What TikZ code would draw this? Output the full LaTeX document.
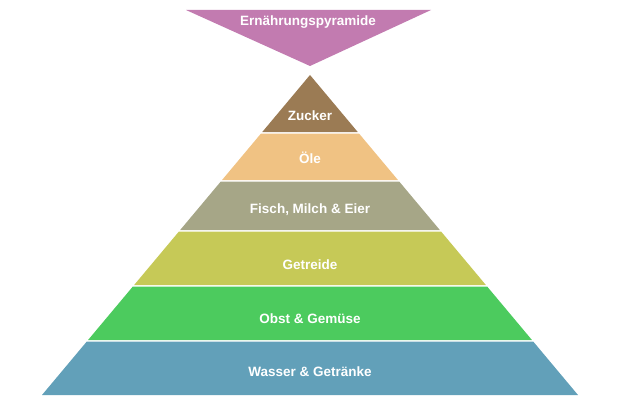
\documentclass[tikz,border=0pt]{standalone}
\usepackage{fontspec}
\setmainfont{Liberation Sans}
\definecolor{cTop}{HTML}{C27BB0}
\definecolor{cZ}{HTML}{9B7B54}
\definecolor{cO}{HTML}{F0C283}
\definecolor{cF}{HTML}{A6A687}
\definecolor{cG}{HTML}{C6C957}
\definecolor{cB}{HTML}{4CCB5E}
\definecolor{cW}{HTML}{62A0B9}
\tikzset{lbl/.style={text=white,font=\bfseries\fontsize{13.5}{15}\selectfont}}
\begin{document}
\begin{tikzpicture}[x=1pt,y=-1pt]
\useasboundingbox (0,0) rectangle (620,409);
\fill[cTop] (186,10) -- (431,10) -- (310,66) -- cycle;
\node[lbl] (t) at (308,22) {Ernährungspyramide};
\def\L#1{310-0.8375*(#1-75)}
\def\R#1{310+0.8375*(#1-75)}
\fill[cZ] (310,75) -- ({\R{132}},132) -- ({\L{132}},132) -- cycle;
\fill[cO] ({\L{133.5}},133.5) -- ({\R{133.5}},133.5) -- ({\R{180}},180) -- ({\L{180}},180) -- cycle;
\fill[cF] ({\L{181.5}},181.5) -- ({\R{181.5}},181.5) -- ({\R{230}},230) -- ({\L{230}},230) -- cycle;
\fill[cG] ({\L{231.5}},231.5) -- ({\R{231.5}},231.5) -- ({\R{285}},285) -- ({\L{285}},285) -- cycle;
\fill[cB] ({\L{286.5}},286.5) -- ({\R{286.5}},286.5) -- ({\R{340}},340) -- ({\L{340}},340) -- cycle;
\fill[cW] ({\L{341.5}},341.5) -- ({\R{341.5}},341.5) -- ({\R{395}},395) -- ({\L{395}},395) -- cycle;
\node[lbl] (z) at (310,116) {Zucker};
\node[lbl] (o) at (310,158) {Öle};
\node[lbl] (f) at (310,210) {Fisch, Milch \& Eier};
\node[lbl] (g) at (310,265) {Getreide};
\node[lbl] (b) at (310,319) {Obst \& Gemüse};
\node[lbl] (w) at (310,372) {Wasser \& Getränke};
\end{tikzpicture}
\end{document}
